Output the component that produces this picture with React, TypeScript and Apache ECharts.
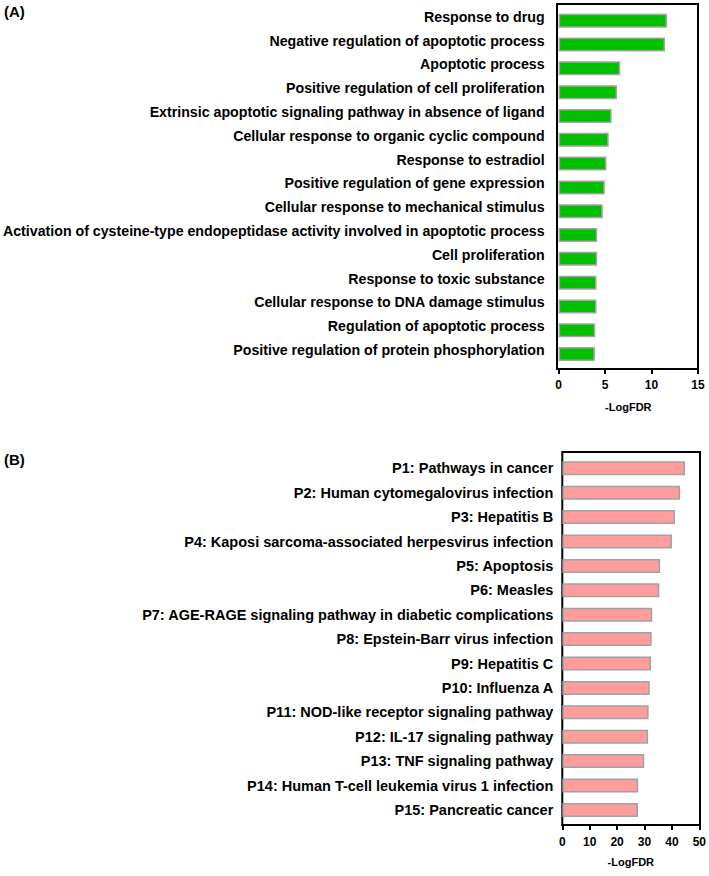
import React, { useEffect, useRef } from "react";
import * as echarts from "echarts";

const goTerms = [
  "Response to drug",
  "Negative regulation of apoptotic process",
  "Apoptotic process",
  "Positive regulation of cell proliferation",
  "Extrinsic apoptotic signaling pathway in absence of ligand",
  "Cellular response to organic cyclic compound",
  "Response to estradiol",
  "Positive regulation of gene expression",
  "Cellular response to mechanical stimulus",
  "Activation of cysteine-type endopeptidase activity involved in apoptotic process",
  "Cell proliferation",
  "Response to toxic substance",
  "Cellular response to DNA damage stimulus",
  "Regulation of apoptotic process",
  "Positive regulation of protein phosphorylation",
];
const goValues = [11.67, 11.45, 6.63, 6.28, 5.71, 5.39, 5.14, 4.97, 4.75, 4.15, 4.15, 4.08, 4.08, 3.94, 3.9];

const keggTerms = [
  "P1: Pathways in cancer",
  "P2: Human cytomegalovirus infection",
  "P3: Hepatitis B",
  "P4: Kaposi sarcoma-associated herpesvirus infection",
  "P5: Apoptosis",
  "P6: Measles",
  "P7: AGE-RAGE signaling pathway in diabetic complications",
  "P8: Epstein-Barr virus infection",
  "P9: Hepatitis C",
  "P10: Influenza A",
  "P11: NOD-like receptor signaling pathway",
  "P12: IL-17 signaling pathway",
  "P13: TNF signaling pathway",
  "P14: Human T-cell leukemia virus 1 infection",
  "P15: Pancreatic cancer",
];
const keggValues = [44.8, 43.0, 41.1, 40.0, 35.7, 35.4, 32.8, 32.6, 32.4, 31.9, 31.5, 31.3, 29.9, 27.7, 27.6];

const axisTitle = "-LogFDR";
const FONT = "'Liberation Sans', Arial, sans-serif";

export default function App() {
  const ref = useRef<HTMLDivElement>(null);
  useEffect(() => {
    if (!ref.current) return;
    const chart = echarts.init(ref.current, null, { renderer: "svg" });
    const xAxisCommon = (max: number, interval: number, gridIndex: number, labelMargin: number, nameGap: number) => ({
      type: "value",
      gridIndex,
      min: 0,
      max,
      interval,
      offset: 3,
      splitLine: { show: false },
      axisLine: { show: true, lineStyle: { color: "#000", width: 2 } },
      axisTick: { show: true, length: 5, lineStyle: { color: "#000", width: 2 } },
      axisLabel: { color: "#000", fontFamily: FONT, fontWeight: "bold", fontSize: 12, margin: labelMargin },
      name: axisTitle,
      nameLocation: "middle",
      nameGap,
      nameTextStyle: { color: "#000", fontFamily: FONT, fontWeight: "bold", fontSize: 11 },
    });
    chart.setOption({
      animation: false,
      backgroundColor: "#fff",
      grid: [
        { left: 557, right: 11, top: 8.8, height: 357.2 },
        { left: 562.3, right: 9, top: 456.1, height: 366 },
      ],
      xAxis: [xAxisCommon(15, 5, 0, 10, 32), xAxisCommon(50, 10, 1, 11, 31)],
      yAxis: [
        {
          type: "category",
          gridIndex: 0,
          inverse: true,
          data: goTerms,
          axisLine: { show: false },
          axisTick: { show: false },
          axisLabel: {
            color: "#000",
            fontFamily: FONT,
            fontWeight: "bold",
            fontSize: 14.2,
            margin: 14,
            verticalAlign: "bottom",
            lineHeight: 8,
            interval: 0,
          },
        },
        {
          type: "category",
          gridIndex: 1,
          inverse: true,
          data: keggTerms,
          axisLine: { show: false },
          axisTick: { show: false },
          axisLabel: {
            color: "#000",
            fontFamily: FONT,
            fontWeight: "bold",
            fontSize: 14.5,
            margin: 9,
            interval: 0,
          },
        },
      ],
      series: [
        {
          type: "bar",
          xAxisIndex: 0,
          yAxisIndex: 0,
          data: goValues,
          barWidth: 14,
          itemStyle: { color: "#00c000", borderColor: "#a8a0a8", borderWidth: 1.5 },
        },
        {
          type: "bar",
          xAxisIndex: 1,
          yAxisIndex: 1,
          data: keggValues,
          barWidth: 14,
          itemStyle: { color: "#ff9c9c", borderColor: "#9aa4a4", borderWidth: 1.5 },
        },
      ],
      graphic: [
        {
          type: "rect",
          shape: { x: 557, y: 4, width: 141, height: 365 },
          style: { fill: "none", stroke: "#000", lineWidth: 2 },
          silent: true,
        },
        {
          type: "rect",
          shape: { x: 562.3, y: 452, width: 137.7, height: 373 },
          style: { fill: "none", stroke: "#000", lineWidth: 2 },
          silent: true,
        },
        {
          type: "text",
          x: 4,
          y: 4,
          style: { text: "(A)", fill: "#000", font: `bold 15px ${FONT}` },
        },
        {
          type: "text",
          x: 4,
          y: 452,
          style: { text: "(B)", fill: "#000", font: `bold 15px ${FONT}` },
        },
      ],
    });
    return () => chart.dispose();
  }, []);
  return (
    <div
      ref={ref}
      style={{ position: "fixed", left: 0, top: 0, width: 709, height: 876, background: "#fff" }}
    />
  );
}
